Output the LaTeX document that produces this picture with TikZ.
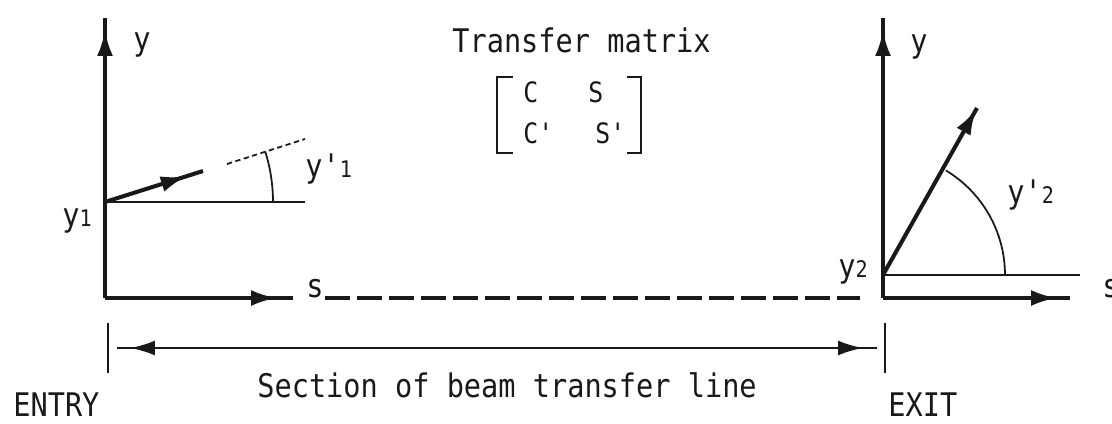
\documentclass[tikz,border=0pt]{standalone}
\usepackage{fontspec}
\newfontfamily\monaco[FakeStretch=0.88]{DejaVu Sans Mono}
\usetikzlibrary{arrows.meta,decorations.markings}
\newcommand\subdig[1]{{\fontsize{13}{13}\selectfont #1}}

\begin{document}
\begin{tikzpicture}[
  x=0.02cm, y=-0.02cm,
  every node/.style={font={\monaco\fontsize{18.5}{20}\selectfont},inner sep=0pt,text=black!90},
  ax/.style={line width=2.3pt,draw=black!90},
  thinln/.style={line width=1pt,draw=black!90},
  tipat/.style={decoration={markings,mark=at position #1 with {\arrow{Latex[length=0.52cm,width=0.32cm]}}},postaction={decorate}},
  dimarr/.style={line width=1.5pt,draw=black!90,decoration={markings,
    mark=at position 0.26cm with {\arrowreversed{Latex[length=0.5cm,width=0.3cm]}},
    mark=at position -0.28cm with {\arrow{Latex[length=0.5cm,width=0.3cm]}}},postaction={decorate}},
  beamdash/.style={line width=2.3pt,draw=black!90,dash pattern=on 0.5cm off 0.14cm}
]
\useasboundingbox (0,0) rectangle (1112,423);

\coordinate (O1) at (105,298);
\coordinate (Y1top) at (105,18);
\coordinate (S1end) at (293,298);
\coordinate (B1) at (105,202);
\coordinate (B1ref) at (305,202);
\coordinate (B1tip) at (203,171);
\coordinate (D1a) at (227,164);
\coordinate (D1b) at (305,139);

\coordinate (O2) at (883,298);
\coordinate (Y2top) at (883,18);
\coordinate (S2end) at (1070,298);
\coordinate (B2) at (883,275);
\coordinate (B2ref) at (1080,275);
\coordinate (B2tip) at (977,108);

\coordinate (dashL) at (325,298);
\coordinate (dashR) at (860,298);
\coordinate (entrytop) at (108,323);
\coordinate (entrybot) at (108,373);
\coordinate (exittop) at (885,323);
\coordinate (exitbot) at (885,373);
\coordinate (secL) at (117,348);
\coordinate (secR) at (877,348);

\draw[ax,tipat=-0.24cm] (O1) -- (Y1top);
\draw[ax,tipat=-0.32cm] (O1) -- (S1end);
\draw[thinln] (B1) -- (B1ref);
\draw[ax,tipat=-0.34cm] (B1) -- (B1tip);
\draw[thinln,densely dashed] (D1a) -- (D1b);
\draw[thinln] (B1) ++(0:168) arc[start angle=0,end angle=-17.5,radius=168];

\draw[ax,tipat=-0.24cm] (O2) -- (Y2top);
\draw[ax,tipat=-0.26cm] (O2) -- (S2end);
\draw[thinln] (B2) -- (B2ref);
\draw[ax,tipat=-0.02cm] (B2) -- (B2tip);
\draw[thinln] (B2) ++(0:122) arc[start angle=0,end angle=-59,radius=122];

\draw[beamdash] (dashL) -- (dashR);
\draw[thinln] (entrytop) -- (entrybot);
\draw[thinln] (exittop) -- (exitbot);
\draw[dimarr] (secL) -- (secR);

\node[anchor=base west] (ylab1) at (133,50) {y};
\node[anchor=base west] (ylab2) at (910,52) {y};
\node[anchor=base west] (y1) at (62,226) {y\subdig{1}};
\node[anchor=base west] (yp1) at (305,177) {y'\subdig{1}};
\node[anchor=base west] (y2) at (838,277) {y\subdig{2}};
\node[anchor=base west] (yp2) at (1007,203) {y'\subdig{2}};
\node[anchor=base west] (s1) at (306,297) {s};
\node[anchor=base west] (s2) at (1102,297) {s};

\node[anchor=base west] (title) at (452,52) {Transfer matrix};
\node[anchor=base west,font={\monaco\fontsize{16}{18}\selectfont}] (c11) at (523,102) {C};
\node[anchor=base west,font={\monaco\fontsize{16}{18}\selectfont}] (c12) at (588,102) {S};
\node[anchor=base west,font={\monaco\fontsize{16}{18}\selectfont}] (c21) at (523,143) {C'};
\node[anchor=base west,font={\monaco\fontsize{16}{18}\selectfont}] (c22) at (595,143) {S'};
\draw[thinln,line width=1.4pt] (513,77) -- (497,77) -- (497,153) -- (513,153);
\draw[thinln,line width=1.4pt] (627,77) -- (641,77) -- (641,153) -- (627,153);

\node[anchor=base west] (sec) at (257,397) {Section of beam transfer line};
\node[anchor=base west] (entry) at (13,416) {ENTRY};
\node[anchor=base west] (exit) at (888,416) {EXIT};
\end{tikzpicture}
\end{document}
